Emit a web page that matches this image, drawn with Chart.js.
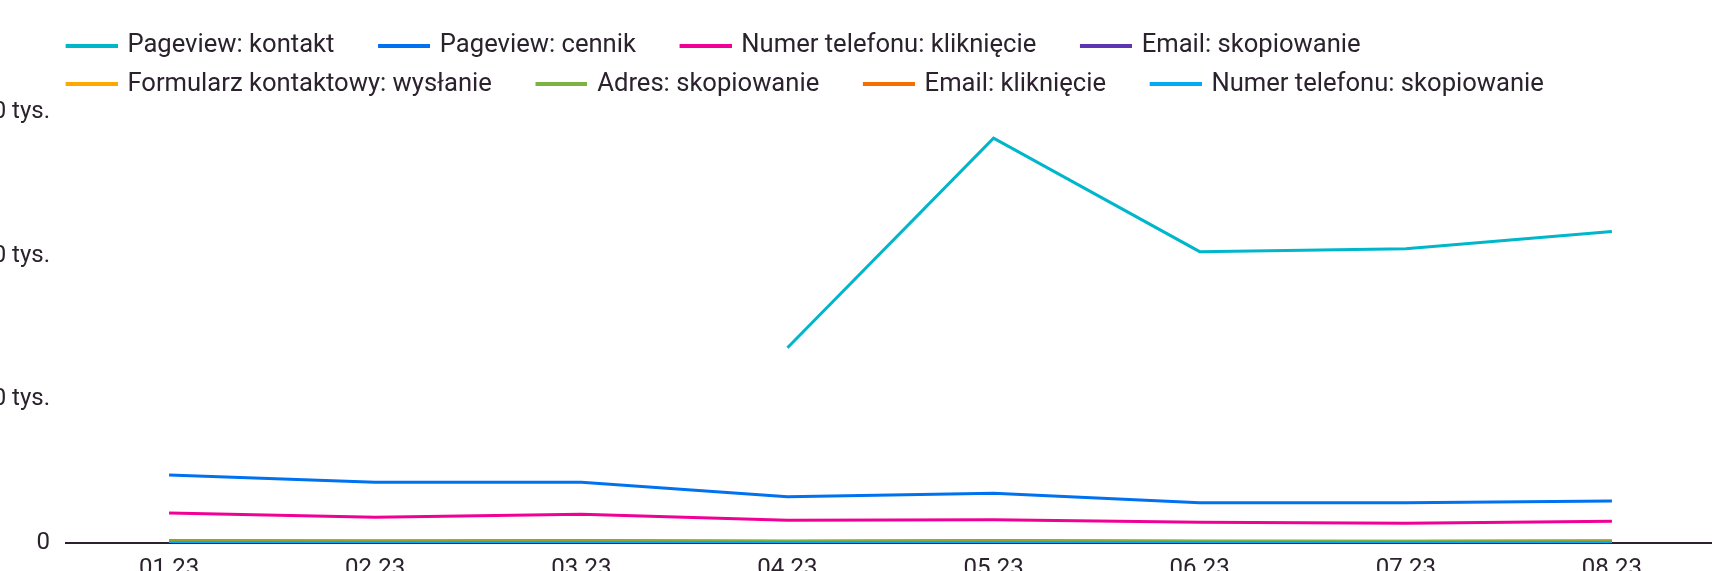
<!DOCTYPE html>
<html lang="pl">
<head>
<meta charset="utf-8">
<title>Konwersje</title>
<script src="https://cdn.jsdelivr.net/npm/chart.js@4.4.1/dist/chart.umd.min.js"></script>
<style>
  html, body { margin: 0; padding: 0; background: #fff; overflow: hidden; }
  .chart-box { position: relative; width: 1715px; height: 600px; }
</style>
</head>
<body>
<div class="chart-box"><canvas id="chart"></canvas></div>
<script>
// dane
const months = ['01.23', '02.23', '03.23', '04.23', '05.23', '06.23', '07.23', '08.23'];

const pageviewKontakt = [null, null, null, 13600, 28200, 20300, 20500, 21700];
const pageviewCennik = [4740, 4230, 4230, 3230, 3470, 2810, 2810, 2930];
const telefonKlik = [2090, 1790, 2000, 1580, 1620, 1440, 1370, 1510];
const emailKopia = [150, 140, 150, 130, 150, 130, 120, 140];
const formularz = [130, 120, 130, 110, 120, 110, 100, 120];
const adresKopia = [140, 130, 140, 120, 140, 120, 110, 130];
const emailKlik = [60, 50, 60, 40, 50, 40, 40, 50];
const telefonKopia = [20, 15, 20, 10, 15, 10, 10, 15];

const seriesNames = [
  'Pageview: kontakt', 'Pageview: cennik', 'Numer telefonu: kliknięcie', 'Email: skopiowanie',
  'Formularz kontaktowy: wysłanie', 'Adres: skopiowanie', 'Email: kliknięcie', 'Numer telefonu: skopiowanie'
];
const seriesValues = [
  pageviewKontakt, pageviewCennik, telefonKlik, emailKopia,
  formularz, adresKopia, emailKlik, telefonKopia
];
const seriesColors = ['#00b6cb', '#0072f0', '#f10096', '#5e35b1', '#ffa800', '#7cb342', '#f66d00', '#03a9f4'];

const yTicks = [0, 10000, 20000, 30000];
const textColor = '#2b222e';

// kreska w legendzie: pole 80px, kreska 52px wystaje 3px za pole
function legendLine(color) {
  const c = document.createElement('canvas');
  c.width = 86;
  c.height = 4;
  const ctx = c.getContext('2d');
  ctx.fillStyle = color;
  ctx.fillRect(34, 0, 52, 4);
  return c;
}

const datasets = seriesNames.map((name, i) => ({
  label: name,
  data: seriesValues[i],
  borderColor: seriesColors[i],
  backgroundColor: seriesColors[i],
  borderWidth: 3,
  pointRadius: 0,
  pointHoverRadius: 0,
  pointStyle: legendLine(seriesColors[i]),
  tension: 0,
  fill: false,
  order: seriesNames.length - i // kolejne serie rysowane na wierzchu
}));

// odstep pod legenda + przesuniecie legendy w prawo
const legendFix = {
  id: 'legendFix',
  beforeInit(chart) {
    const fit = chart.legend.fit;
    chart.legend.fit = function () {
      fit.bind(chart.legend)();
      this.height += 5.5;
    };
  },
  afterLayout(chart) {
    chart.legend.left = 22;
  }
};

new Chart(document.getElementById('chart'), {
  type: 'line',
  data: { labels: months, datasets: datasets },
  options: {
    responsive: true,
    maintainAspectRatio: false,
    animation: false,
    layout: { padding: { left: 0, top: 20.5, right: 0, bottom: 0 } },
    plugins: {
      legend: {
        position: 'top',
        align: 'start',
        labels: {
          usePointStyle: true,
          pointStyleWidth: 80,
          padding: 12.6,
          color: textColor,
          font: { family: 'Roboto', size: 25.6 },
          sort: (a, b) => a.datasetIndex - b.datasetIndex
        }
      },
      tooltip: { enabled: false }
    },
    scales: {
      x: {
        offset: true,
        grid: { drawOnChartArea: false, drawTicks: false },
        border: { display: true, color: textColor, width: 2 },
        ticks: {
          color: textColor,
          padding: 12,
          maxRotation: 0,
          font: { family: 'Roboto', size: 24 }
        },
        afterFit(scale) { scale.height = 57; }
      },
      y: {
        min: yTicks[0],
        max: yTicks[yTicks.length - 1],
        grid: { display: false, drawTicks: false },
        border: { display: false },
        afterBuildTicks(scale) { scale.ticks = yTicks.map(v => ({ value: v })); },
        afterFit(scale) { scale.width = 66; },
        ticks: {
          color: textColor,
          padding: 16,
          font: { family: 'Roboto', size: 24 },
          callback: (v) => v === 0 ? '0' : (v / 1000) + ' tys.'
        }
      }
    }
  },
  plugins: [legendFix]
});
</script>
</body>
</html>
